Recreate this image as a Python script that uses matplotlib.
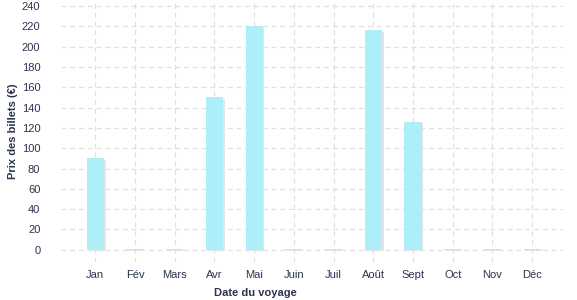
import matplotlib
matplotlib.use('Agg')
import matplotlib.pyplot as plt
import matplotlib.patheffects as pe

months = ['Jan', 'Fév', 'Mars', 'Avr', 'Mai', 'Juin', 'Juil', 'Août', 'Sept', 'Oct', 'Nov', 'Déc']
prices = [90, 1, 1, 150, 220, 1, 1, 216, 126, 1, 1, 1]
yticks = list(range(0, 241, 20))

text_color = '#2b3350'
grid_color = '#e0e0e0'
bar_color = '#aeeef8'


def main():
    plt.rcParams['font.family'] = ['Liberation Sans', 'DejaVu Sans']

    fig = plt.figure(figsize=(5.77, 3.0), dpi=100)
    ax = fig.add_axes([0.106, 0.127, 0.870, 0.873])

    x = list(range(len(months)))
    ax.bar(x, prices, width=0.43, color=bar_color, zorder=3,
           path_effects=[pe.SimplePatchShadow(offset=(1.2, -1), shadow_rgbFace='#e4e4e4', alpha=1),
                         pe.Normal()])

    ax.set_xticks(x)
    ax.set_xticklabels(months, fontsize=8, color=text_color)
    ax.set_yticks(yticks)
    ax.set_yticklabels([str(v) for v in yticks], fontsize=8, color=text_color)
    ax.set_xlim(-0.86, 11.78)
    ax.set_ylim(-12, 246)

    ax.grid(True, color=grid_color, linestyle=(0, (4, 3)), linewidth=0.9, zorder=0)
    ax.tick_params(axis='both', length=0)
    ax.tick_params(axis='x', pad=6)
    ax.tick_params(axis='y', pad=15)
    for s in ax.spines.values():
        s.set_visible(False)

    ax.set_xlabel('Date du voyage', fontsize=8, fontweight='bold', color=text_color)
    ax.xaxis.set_label_coords(0.386, -0.1)
    ax.set_ylabel('Prix des billets (€)', fontsize=8, fontweight='bold', color=text_color)
    ax.yaxis.set_label_coords(-0.085, 0.5)

    plt.savefig('out.png', dpi=100)


if __name__ == '__main__':
    main()
